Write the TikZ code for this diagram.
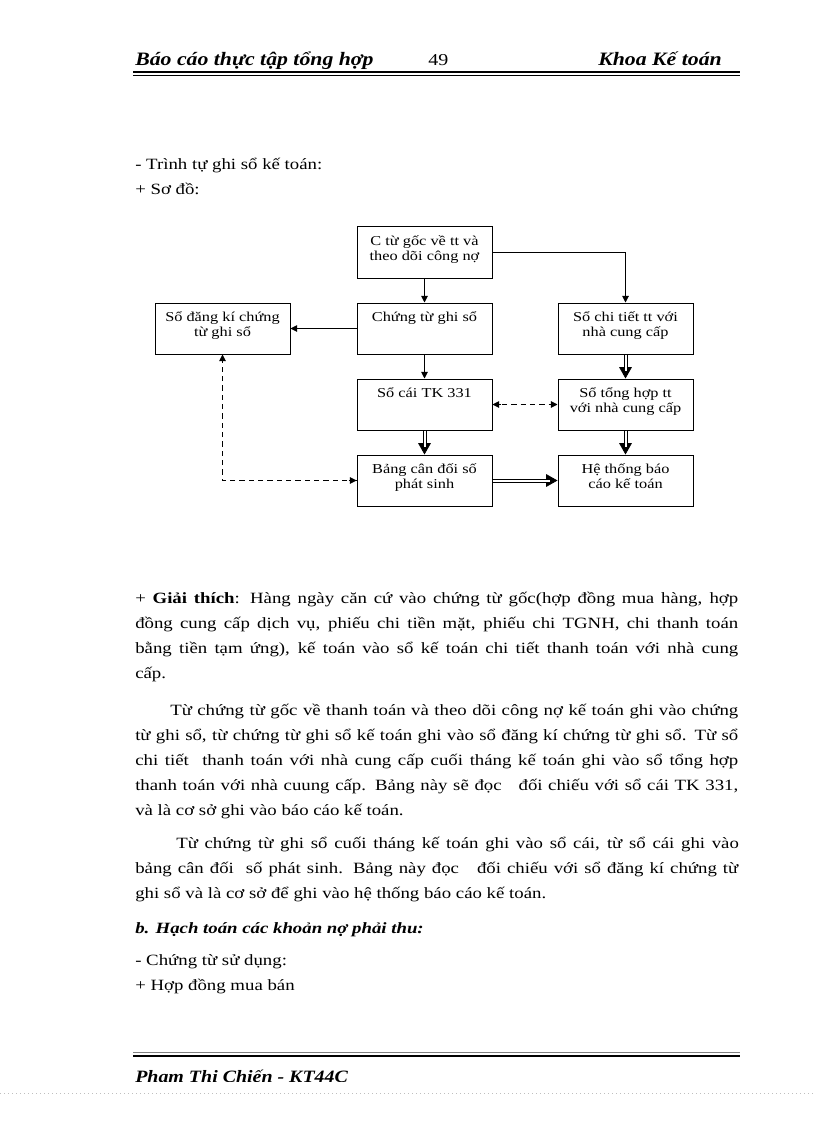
\documentclass[tikz,border=0pt]{standalone}
\usepackage{fontspec}
\setmainfont[FakeStretch=1.2]{Liberation Serif}
\newfontfamily\hdrfont[FakeStretch=1.15]{Liberation Serif}
\usetikzlibrary{arrows.meta}
\newcommand\bx[1]{\parbox[c][36pt][t]{100pt}{\centering\rule{0pt}{13pt}#1}}
\newcommand\jl[2]{\makebox[#1][s]{#2}}
\begin{document}
\begin{tikzpicture}[x=0.75pt,y=-0.75pt,
  box/.style={draw, line width=0.75pt, inner sep=0pt, minimum width=101.25pt, minimum height=38.25pt,
    font=\fontsize{10.2}{10.9}\selectfont},
  arr/.style={line width=0.75pt, -{Triangle[length=5pt,width=5pt]}},
  dbltip/.style={line width=0.5pt, -{Triangle[length=8.5pt,width=9.5pt]}},
  dblline/.style={double, double distance=1.5pt, line width=0.75pt, shorten >=6pt},
  darr/.style={line width=0.75pt, dash pattern=on 4pt off 3pt},
  dtip/.style={-{Triangle[length=5pt,width=5pt]}},
  ln/.style={anchor=base west, inner sep=0pt, font=\fontsize{11.75}{14}\selectfont},
  hdr/.style={anchor=base west, inner sep=0pt, font=\hdrfont\fontsize{14.2}{16}\selectfont\bfseries\itshape}]
\useasboundingbox (0,0) rectangle (816,1123);
\fill[white] (0,0) rectangle (816,1123);

% header
\node[hdr] (h1) at (135,66) {Báo cáo thực tập tổng hợp};
\node[ln, font=\fontsize{12.5}{14}\selectfont] (h2) at (428,66) {49};
\node[hdr, anchor=base east] (h3) at (722,66) {Khoa Kế toán};
\draw[line width=1.5pt] (133,72) -- (740,72);
\draw[line width=0.75pt] (133,75.5) -- (740,75.5);

% intro
\node[ln] (t1) at (135,170) {- Trình tự ghi sổ kế toán:};
\node[ln] (t2) at (135,195) {+ Sơ đồ:};

% diagram
\node[box] (A) at (424.5,252.5) {\bx{C từ gốc về tt và\\ theo dõi công nợ}};
\node[box] (B) at (424.5,328.5) {\bx{Chứng từ ghi sổ}};
\node[box] (C) at (222.5,328.5) {\bx{Sổ đăng kí chứng\\ từ ghi sổ}};
\node[box] (D) at (625.5,328.5) {\bx{Sổ chi tiết tt với\\ nhà cung cấp}};
\node[box] (E) at (424.5,404.5) {\bx{Sổ cái TK 331}};
\node[box] (F) at (625.5,404.5) {\bx{Sổ tổng hợp tt\\ với nhà cung cấp}};
\node[box] (G) at (424.5,480.5) {\bx{Bảng cân đối số\\ phát sinh}};
\node[box] (H) at (625.5,480.5) {\bx{Hệ thống báo\\ cáo kế toán}};

\draw[arr] (A) -- (B);
\draw[arr] (A.east) -| (D.north);
\draw[arr] (B) -- (C);
\draw[arr] (B) -- (E);
\draw[dbltip] (D) -- (F); \draw[dblline] (D) -- (F);
\draw[dbltip] (E) -- (G); \draw[dblline] (E) -- (G);
\draw[dbltip] (F) -- (H); \draw[dblline] (F) -- (H);
\draw[dbltip] (G) -- (H); \draw[dblline] (G) -- (H);
\draw[darr] (E) -- (F);
\draw[dtip, line width=0.75pt] ([xshift=-6pt]F.west) -- (F.west);
\draw[dtip, line width=0.75pt] ([xshift=6pt]E.east) -- (E.east);
\draw[darr] (G.west) -| (C.south);
\draw[dtip, line width=0.75pt] ([xshift=-6pt]G.west) -- (G.west);
\draw[dtip, line width=0.75pt] ([yshift=-6pt]C.south) -- (C.south);

% paragraph 1
\node[ln] (p11) at (135,603) {\jl{452.25pt}{+ \textbf{Giải thích}: Hàng ngày căn cứ vào chứng từ gốc(hợp đồng mua hàng, hợp}};
\node[ln] (p12) at (135,628) {\jl{452.25pt}{đồng cung cấp dịch vụ, phiếu chi tiền mặt, phiếu chi TGNH, chi thanh toán}};
\node[ln] (p13) at (135,653) {\jl{452.25pt}{bằng tiền tạm ứng), kế toán vào sổ kế toán chi tiết thanh toán với nhà cung}};
\node[ln] (p14) at (135,678) {cấp.};

% paragraph 2
\node[ln] (p21) at (170,715) {\jl{426pt}{Từ chứng từ gốc về thanh toán và theo dõi công nợ kế toán ghi vào chứng}};
\node[ln] (p22) at (135,740) {\jl{452.25pt}{từ ghi sổ, từ chứng từ ghi sổ kế toán ghi vào sổ đăng kí chứng từ ghi sổ. Từ sổ}};
\node[ln] (p23) at (135,765) {\jl{452.25pt}{chi tiết\ \ thanh toán với nhà cung cấp cuối tháng kế toán ghi vào sổ tổng hợp}};
\node[ln] (p24) at (135,790) {\jl{452.25pt}{thanh toán với nhà cuung cấp. Bảng này sẽ đọc\ \ \ đối chiếu với sổ cái TK 331,}};
\node[ln] (p25) at (135,815) {và là cơ sở ghi vào báo cáo kế toán.};

% paragraph 3
\node[ln] (p31) at (176,848) {\jl{422pt}{Từ chứng từ ghi sổ cuối tháng kế toán ghi vào sổ cái, từ sổ cái ghi vào}};
\node[ln] (p32) at (135,873) {\jl{452.25pt}{bảng cân đối\ \ số phát sinh. Bảng này đọc\ \ \ đối chiếu với sổ đăng kí chứng từ}};
\node[ln] (p33) at (135,898) {ghi sổ và là cơ sở để ghi vào hệ thống báo cáo kế toán.};

\node[ln, font=\fontsize{11.75}{14}\selectfont\bfseries\itshape] (b1) at (135,933) {b. Hạch toán các khoản nợ phải thu:};
\node[ln] (b2) at (135,965) {- Chứng từ sử dụng:};
\node[ln] (b3) at (135,990) {+ Hợp đồng mua bán};

% footer
\draw[line width=0.75pt, gray] (133,1052.5) -- (740,1052.5);
\draw[line width=1.5pt] (133,1055.5) -- (740,1055.5);
\begin{scope}
\clip (100,1060) rectangle (760,1081);
\node[hdr, font=\hdrfont\fontsize{13}{15}\selectfont\bfseries\itshape] (f1) at (135,1082) {Phạm Thị Chiến - KT44C};
\end{scope}
\draw[gray!50, line width=0.5pt, dash pattern=on 0.75pt off 2.25pt] (0,1093) -- (816,1093);
\end{tikzpicture}
\end{document}
